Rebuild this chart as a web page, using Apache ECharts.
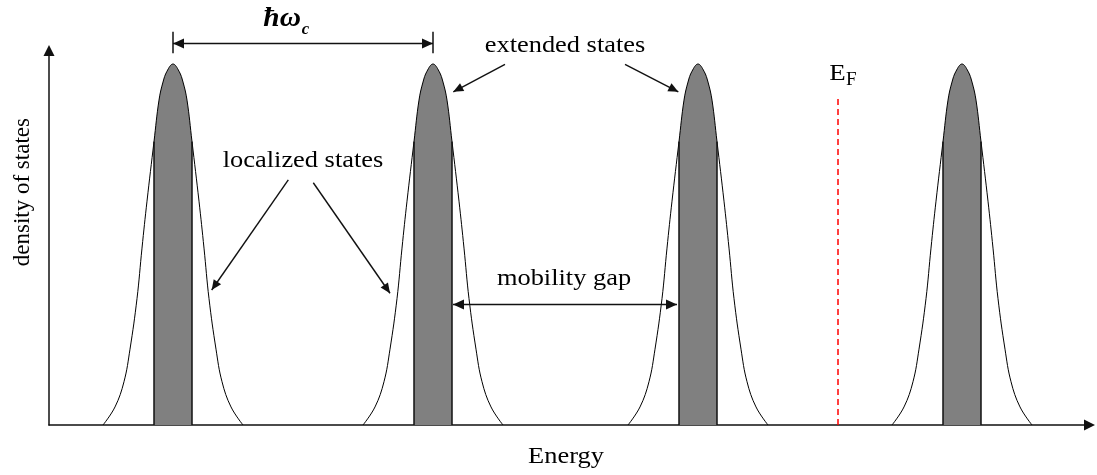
<!DOCTYPE html>
<html>
<head>
<meta charset="utf-8">
<script src="https://cdn.jsdelivr.net/npm/echarts@6/dist/echarts.min.js"></script>
<style>
  html, body { margin: 0; padding: 0; background: #fff; }
  #chart { width: 1097px; height: 475px; }
</style>
</head>
<body>
<div id="chart"></div>
<script>
// Landau levels: broadened peaks in the density of states vs energy
const peakCenters = [124, 384, 649, 913];
const profileOffsets = [-70, -58, -49, -43, -36, -31, -26, -19, -14, -10, -6, 0, 6, 10, 14, 19, 26, 31, 36, 43, 49, 58, 70];
const profileHeights = [0, 0.05, 0.12, 0.21, 0.35, 0.49, 0.62, 0.785, 0.90, 0.95, 0.98, 1, 0.98, 0.95, 0.90, 0.785, 0.62, 0.49, 0.35, 0.21, 0.12, 0.05, 0];
const extendedHalfWidth = 19;   // half-width of the extended-states band
const fermiEnergy = 788.3;
const fermiLineTop = 0.914;
const energyMax = 1040.5;
const dosMax = 1.0374;

const FONT = '"Liberation Serif", "Times New Roman", serif';
const INK = '#111';

const chart = echarts.init(document.getElementById('chart'), null, { renderer: 'canvas' });

const series = [];
peakCenters.forEach((c, k) => {
  const curve = profileOffsets.map((o, i) => [c + o, profileHeights[i]]);
  const band = curve.filter(p => Math.abs(p[0] - c) <= extendedHalfWidth);
  const edgeLeft = band[0], edgeRight = band[band.length - 1];
  // shaded extended states
  series.push({
    type: 'line', name: 'extended' + k, data: band, smooth: 0.4, symbol: 'none',
    lineStyle: { width: 0 }, areaStyle: { color: '#808080', opacity: 1 }, z: 1,
    markLine: {
      silent: true, symbol: 'none', animation: false, label: { show: false },
      lineStyle: { color: INK, width: 1.5, type: 'solid' },
      data: [
        [{ coord: [edgeLeft[0], 0] }, { coord: edgeLeft }],
        [{ coord: [edgeRight[0], 0] }, { coord: edgeRight }]
      ]
    }
  });
  // density-of-states outline
  series.push({
    type: 'line', name: 'level' + k, data: curve, smooth: 0.4, symbol: 'none',
    lineStyle: { color: '#000', width: 1 }, z: 3
  });
});
// Fermi level
series.push({
  type: 'line', name: 'fermi', data: [], symbol: 'none',
  markLine: {
    silent: true, symbol: 'none', animation: false, label: { show: false },
    lineStyle: { color: '#ff0000', width: 1.5, type: [6, 4] },
    data: [[{ coord: [fermiEnergy, 0] }, { coord: [fermiEnergy, fermiLineTop] }]]
  }
});

const axisCommon = {
  type: 'value',
  splitLine: { show: false }, axisTick: { show: false }, axisLabel: { show: false },
  axisLine: { show: true, symbol: ['none', 'triangle'], symbolSize: [11, 11], lineStyle: { color: INK, width: 1.5 } }
};

chart.setOption({
  animation: false,
  backgroundColor: '#fff',
  grid: { left: 49, right: 7.5, top: 50.5, bottom: 50, containLabel: false },
  xAxis: Object.assign({}, axisCommon, { min: 0, max: energyMax }),
  yAxis: Object.assign({}, axisCommon, { min: 0, max: dosMax }),
  series: series
});

// ---- annotations, placed in data coordinates ----
const P = (x, y) => chart.convertToPixel('grid', [x, y]);

// (x, y) is the left/centre point on the text baseline
function text(str, x, y, size, opts) {
  opts = opts || {};
  const p = P(x, y);
  return {
    type: 'text', x: p[0], y: p[1] - 0.24 * size,
    scaleX: opts.scaleX || 1.1, silent: true, z: 10,
    style: {
      text: str, x: 0, y: 0, fill: '#000',
      font: (opts.style || 'normal') + ' ' + (opts.weight || 'normal') + ' ' + size + 'px ' + FONT,
      align: opts.align || 'center', verticalAlign: 'middle'
    }
  };
}
function head(tip, from, len, half) {
  const dx = tip[0] - from[0], dy = tip[1] - from[1], d = Math.hypot(dx, dy);
  const ux = dx / d, uy = dy / d, bx = tip[0] - ux * len, by = tip[1] - uy * len;
  return { type: 'polygon', silent: true, z: 10,
    shape: { points: [tip, [bx - uy * half, by + ux * half], [bx + uy * half, by - ux * half]] },
    style: { fill: INK } };
}
function seg(a, b, w) {
  return { type: 'line', silent: true, z: 10, shape: { x1: a[0], y1: a[1], x2: b[0], y2: b[1] },
    style: { stroke: INK, lineWidth: w || 1.4 } };
}
function arrow(fromD, toD) {
  const a = P(fromD[0], fromD[1]), b = P(toD[0], toD[1]);
  return [seg(a, b, 1.4), head(b, a, 10, 4.5)];
}
function doubleArrow(fromD, toD) {
  const a = P(fromD[0], fromD[1]), b = P(toD[0], toD[1]);
  return [seg(a, b, 1.5), head(a, b, 11, 5), head(b, a, 11, 5)];
}

const g = [];
// cyclotron spacing between neighbouring levels
const hwY = 1.057;
g.push(...doubleArrow([peakCenters[0], hwY], [peakCenters[1], hwY]));
[peakCenters[0], peakCenters[1]].forEach(c => g.push(seg(P(c, 1.030), P(c, 1.089), 1.5)));
g.push(text('ħω', 214.3, 1.108, 28, { align: 'left', weight: 'bold', style: 'italic', scaleX: 1.05 }));
g.push(text('c', 252.7, 1.085, 16, { align: 'left', weight: 'bold', style: 'italic', scaleX: 1.05 }));

// extended states
g.push(text('extended states', 516, 1.034, 24));
g.push(...arrow([456, 0.999], [404.3, 0.923]));
g.push(...arrow([576, 0.999], [629.3, 0.923]));

// localized states
g.push(text('localized states', 254, 0.715, 24));
g.push(...arrow([239.3, 0.679], [162.7, 0.374]));
g.push(...arrow([264.3, 0.671], [341, 0.365]));

// mobility gap
g.push(text('mobility gap', 515, 0.388, 24));
g.push(...doubleArrow([peakCenters[1] + extendedHalfWidth + 1, 0.334], [peakCenters[2] - extendedHalfWidth - 2, 0.334]));

// Fermi level label
g.push(text('E', 780.3, 0.958, 24, { align: 'left', scaleX: 1.12 }));
g.push(text('F', 797.0, 0.942, 19, { align: 'left', scaleX: 1.0 }));

// axis titles
g.push(text('Energy', 517, -0.105, 24));
(function () {
  const p = P(-26.5, 0.645);
  g.push({ type: 'text', x: p[0], y: p[1], rotation: Math.PI / 2, silent: true, z: 10,
    style: { text: 'density of states', x: 0, y: 0, fill: '#000', font: 'normal 23px ' + FONT,
      align: 'center', verticalAlign: 'middle' } });
})();

chart.setOption({ graphic: g });
</script>
</body>
</html>
